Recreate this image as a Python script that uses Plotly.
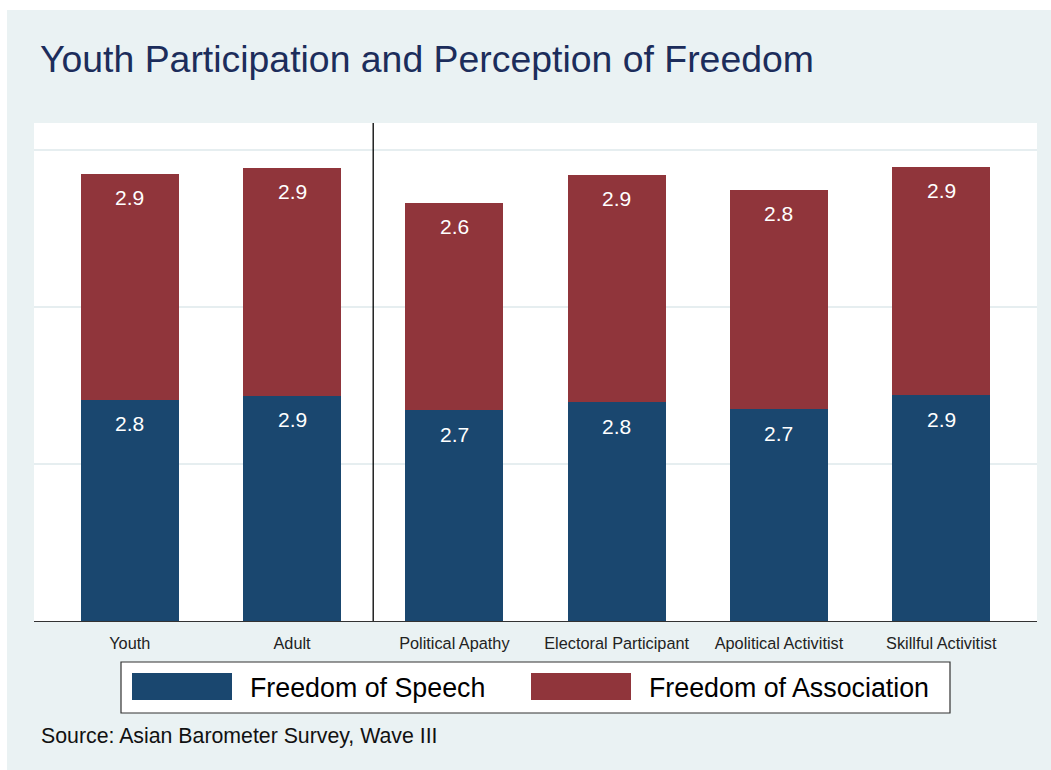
import plotly.graph_objects as go

# Mean scores by group (stacked: speech at the bottom, association on top)
groups = ["Youth", "Adult", "Political Apathy", "Electoral Participant",
          "Apolitical Activitist", "Skillful Activitist"]
speech = [2.82, 2.87, 2.69, 2.79, 2.70, 2.88]
association = [2.88, 2.91, 2.64, 2.90, 2.80, 2.91]
series_names = ["Freedom of Speech", "Freedom of Association"]

C_SPEECH = "#1a476f"
C_ASSOC = "#90353b"
BG = "#eaf2f3"
FONT = "Liberation Sans, Arial, sans-serif"

W, H = 1051, 770
L, R, T, B = 34, 14, 123, 149
PW, PH = W - L - R, H - T - B


def px_x(px):
    return (px - L) / PW


def px_y(py):
    return (H - B - py) / PH


x = list(range(len(groups)))

fig = go.Figure()
fig.add_trace(go.Bar(x=x, y=speech, name=series_names[0], width=0.604,
                     marker=dict(color=C_SPEECH, line=dict(width=0))))
fig.add_trace(go.Bar(x=x, y=association, name=series_names[1], width=0.604,
                     marker=dict(color=C_ASSOC, line=dict(width=0))))

annotations = []
# value labels just inside the top of each segment
for i in x:
    tops = [speech[i], speech[i] + association[i]]
    for top, val in zip(tops, [speech[i], association[i]]):
        annotations.append(dict(x=i, y=top, xref="x", yref="y",
                                text=f"{val:.1f}", showarrow=False,
                                yshift=-24, yanchor="middle",
                                font=dict(family=FONT, size=21, color="white")))

shapes = [
    # white strip along the top and left page edges
    dict(type="rect", xref="paper", yref="paper", layer="below",
         x0=px_x(0), x1=px_x(W), y0=px_y(0), y1=px_y(10),
         fillcolor="white", line=dict(width=0)),
    dict(type="rect", xref="paper", yref="paper", layer="below",
         x0=px_x(0), x1=px_x(7), y0=px_y(0), y1=px_y(H),
         fillcolor="white", line=dict(width=0)),
    # divider between age groups and participation types
    dict(type="line", xref="x", yref="paper", x0=1.5, x1=1.5, y0=0, y1=1,
         line=dict(color="black", width=1.3)),
    # legend box
    dict(type="rect", xref="paper", yref="paper",
         x0=px_x(121), x1=px_x(950), y0=px_y(662), y1=px_y(713),
         fillcolor="white", line=dict(color="#333333", width=1.2)),
    dict(type="rect", xref="paper", yref="paper",
         x0=px_x(132), x1=px_x(232), y0=px_y(673), y1=px_y(700),
         fillcolor=C_SPEECH, line=dict(width=0)),
    dict(type="rect", xref="paper", yref="paper",
         x0=px_x(531), x1=px_x(631), y0=px_y(673), y1=px_y(700),
         fillcolor=C_ASSOC, line=dict(width=0)),
]

annotations += [
    dict(x=px_x(248), y=px_y(688), xref="paper", yref="paper",
         text=series_names[0], showarrow=False, xanchor="left", yanchor="middle",
         font=dict(family=FONT, size=26.8, color="black")),
    dict(x=px_x(647), y=px_y(688), xref="paper", yref="paper",
         text=series_names[1], showarrow=False, xanchor="left", yanchor="middle",
         font=dict(family=FONT, size=26.8, color="black")),
    dict(x=px_x(39), y=px_y(736), xref="paper", yref="paper",
         text="Source: Asian Barometer Survey, Wave III", showarrow=False,
         xanchor="left", yanchor="middle",
         font=dict(family=FONT, size=21.3, color="#111111")),
]

fig.update_layout(
    width=W, height=H,
    margin=dict(l=L, r=R, t=T, b=B, pad=0),
    barmode="stack",
    showlegend=False,
    paper_bgcolor=BG,
    plot_bgcolor="white",
    title=dict(text="Youth Participation and Perception of Freedom",
               x=40 / W, xref="container", xanchor="left",
               y=1 - 59 / H, yref="container", yanchor="middle",
               font=dict(family=FONT, size=37.4, color="#1c2d5b")),
    xaxis=dict(range=[-0.59, 5.59], tickvals=x, ticktext=groups,
               showgrid=False, zeroline=False, showline=True,
               linecolor="#333333", linewidth=1, ticks="", fixedrange=True,
               ticklabelstandoff=7,
               tickfont=dict(family=FONT, size=16.3, color="#222222")),
    yaxis=dict(range=[0, 6.35], tickvals=[2, 4, 6], showticklabels=False,
               showgrid=True, gridcolor="#e6eef0", gridwidth=2,
               zeroline=False, showline=False, ticks="", fixedrange=True),
    annotations=annotations,
    shapes=shapes,
)

fig.write_html("out.html")
